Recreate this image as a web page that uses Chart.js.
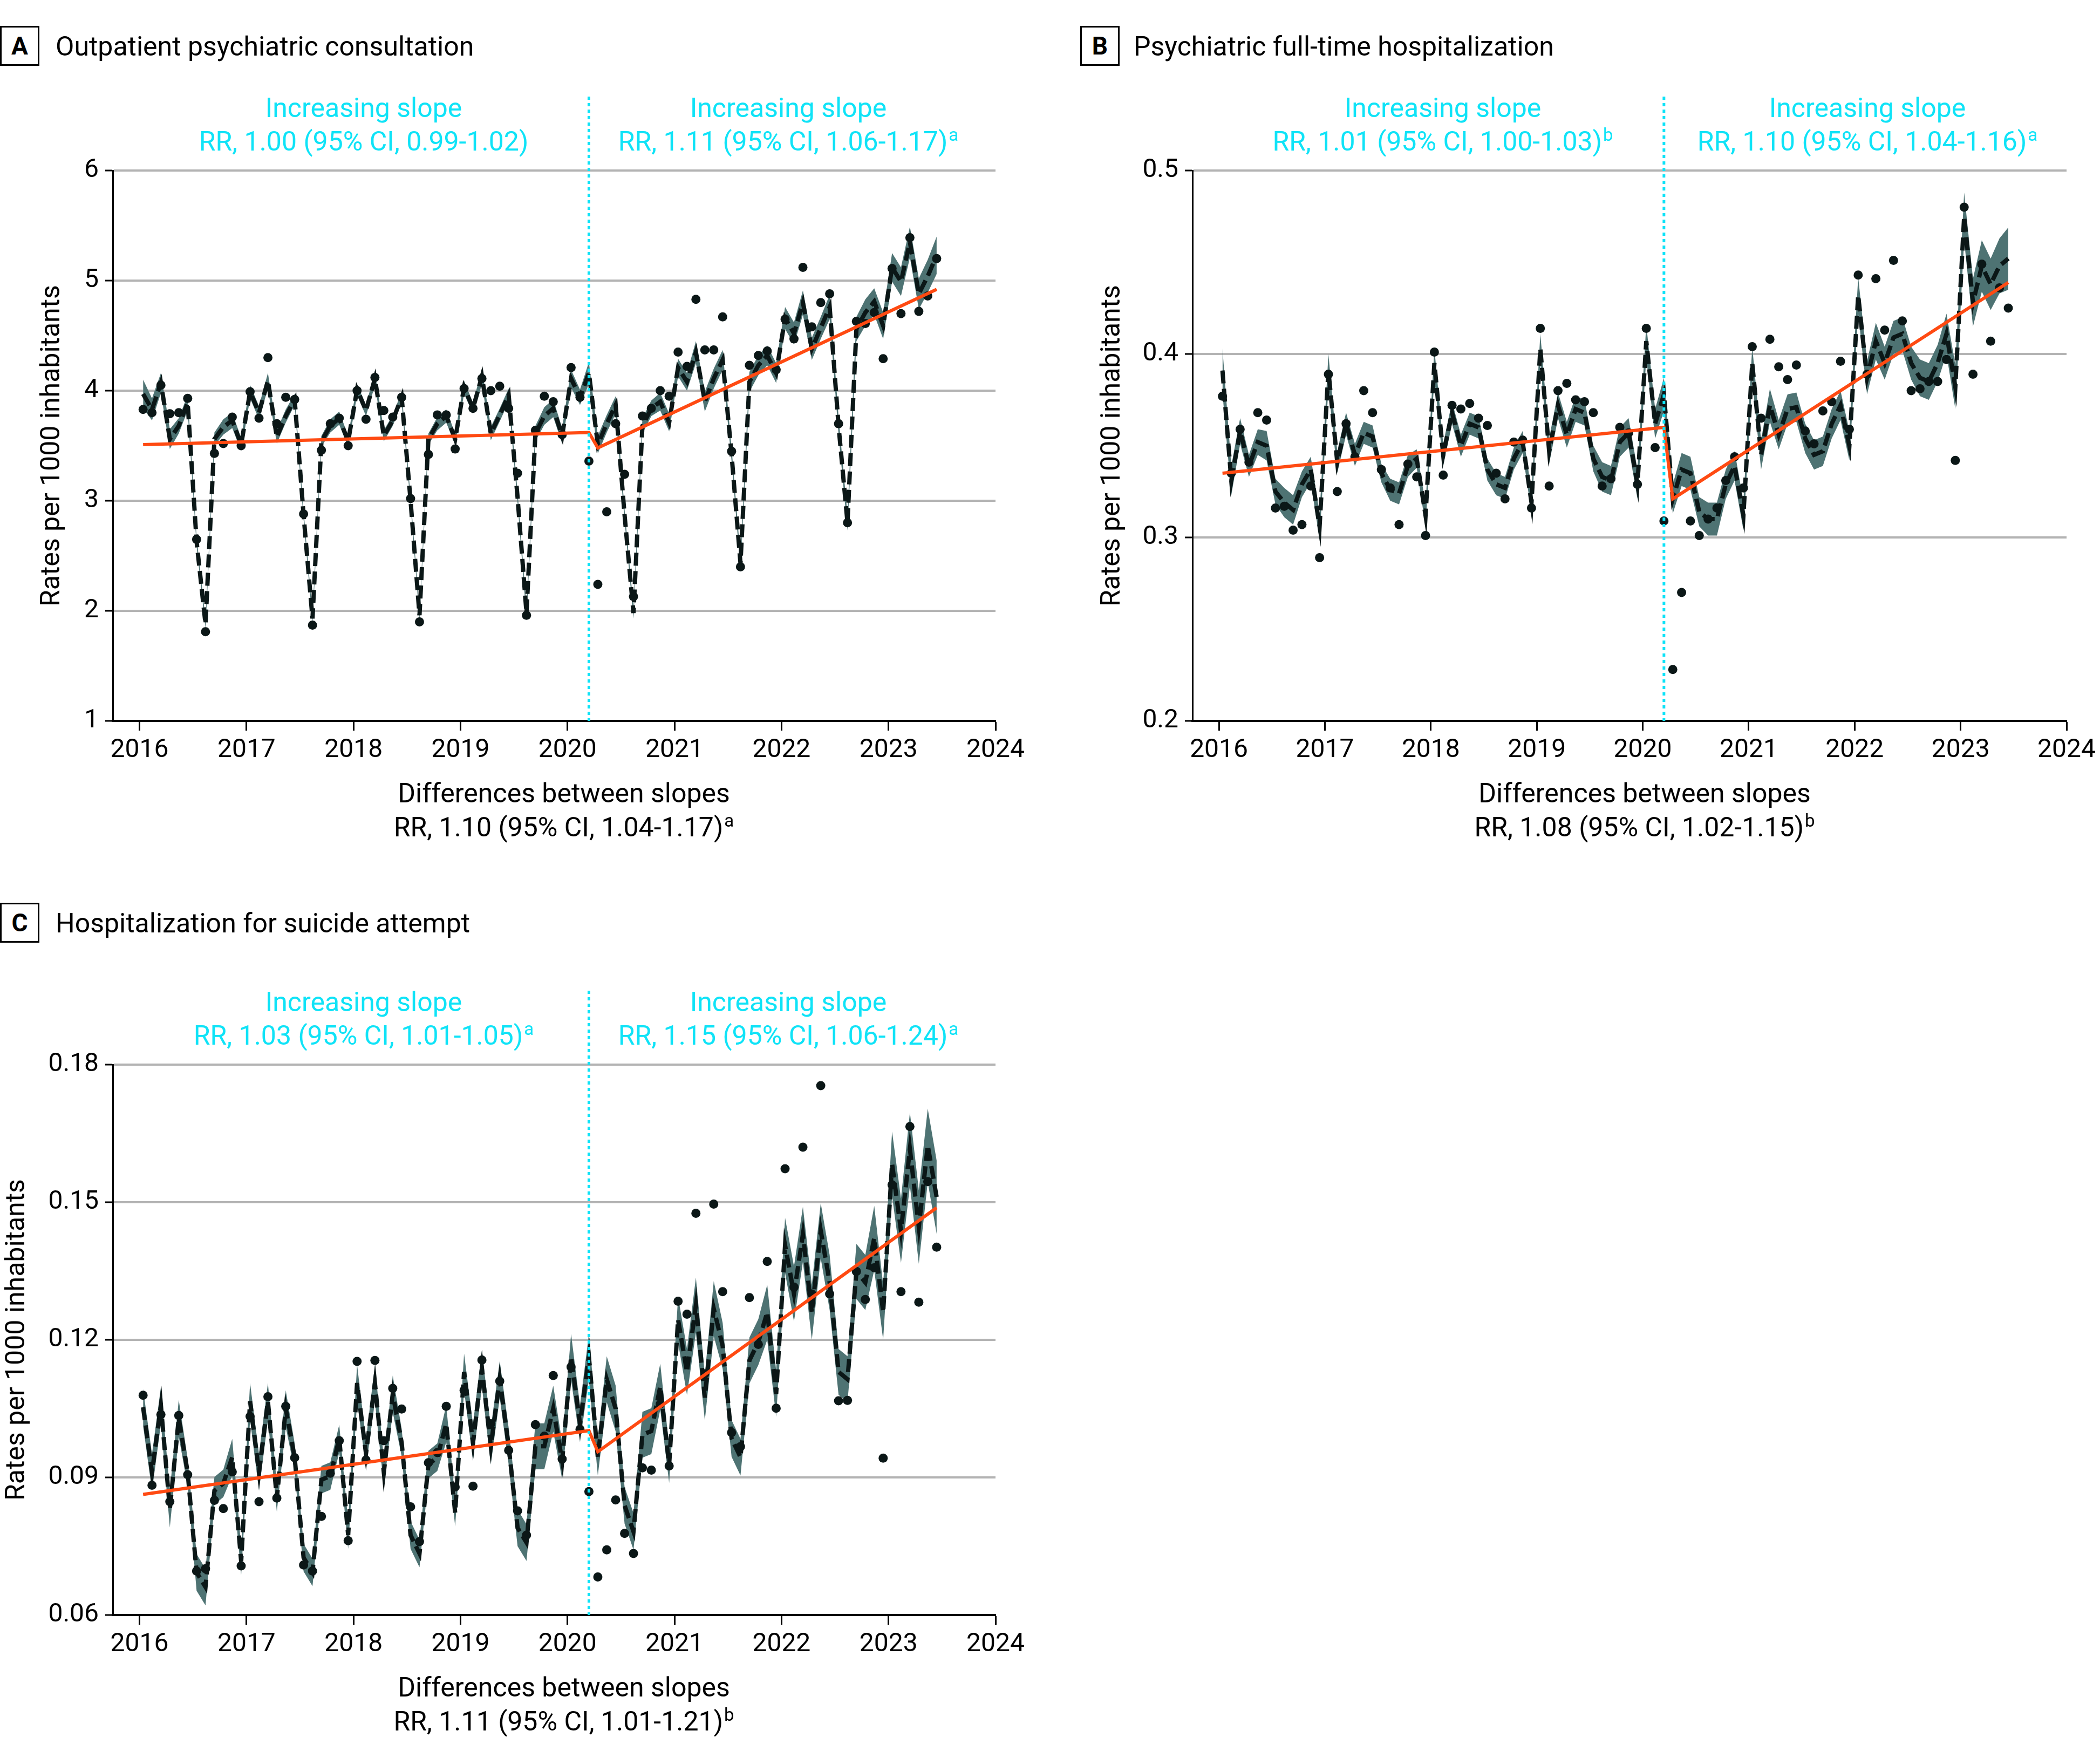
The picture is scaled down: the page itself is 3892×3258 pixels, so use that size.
<!DOCTYPE html>
<html>
<head>
<meta charset="utf-8">
<script src="https://cdn.jsdelivr.net/npm/chart.js@4.4.0/dist/chart.umd.min.js"></script>
<style>
  body { margin: 0; background: #fff; }
  #page { position: relative; width: 3892px; height: 3258px; overflow: hidden; background: #fff; font-family: Roboto, sans-serif; }
  canvas { position: absolute; }
  .t { position: absolute; font-size: 50px; line-height: 50px; white-space: nowrap; color: #000; }
  .c { transform: translateX(-50%); }
  .cyan { color: #0fe3f7; }
  .box { position: absolute; width: 73px; height: 74px; border: 3px solid #000; box-sizing: border-box;
         font-weight: bold; font-size: 46px; line-height: 68px; text-align: center; }
  .ytitle { position: absolute; font-size: 50px; line-height: 50px; white-space: nowrap;
            transform: translate(-50%, -50%) rotate(-90deg); }
  sup { font-size: 33px; line-height: 0; position: relative; top: -18px; vertical-align: baseline; margin-left: 2px; }
</style>
</head>
<body>
<div id="page">
  <canvas id="chartA" width="1940" height="1300" style="left:0;top:150px"></canvas>
  <canvas id="chartB" width="1892" height="1300" style="left:2000px;top:150px"></canvas>
  <canvas id="chartC" width="1940" height="1300" style="left:0;top:1807px"></canvas>

  <!-- Panel A -->
  <div class="box" style="left:0;top:48px">A</div>
  <div class="t" style="left:103px;top:61px">Outpatient psychiatric consultation</div>
  <div class="t c cyan" style="left:674px;top:175px">Increasing slope</div>
  <div class="t c cyan" style="left:674px;top:237px">RR, 1.00 (95% CI, 0.99-1.02)</div>
  <div class="t c cyan" style="left:1461px;top:175px">Increasing slope</div>
  <div class="t c cyan" style="left:1461px;top:237px">RR, 1.11 (95% CI, 1.06-1.17)<sup>a</sup></div>
  <div class="ytitle" style="left:93px;top:826px">Rates per 1000 inhabitants</div>
  <div class="t c" style="left:1045px;top:1445px">Differences between slopes</div>
  <div class="t c" style="left:1045px;top:1508px">RR, 1.10 (95% CI, 1.04-1.17)<sup>a</sup></div>

  <!-- Panel B -->
  <div class="box" style="left:2002px;top:48px">B</div>
  <div class="t" style="left:2101px;top:61px">Psychiatric full-time hospitalization</div>
  <div class="t c cyan" style="left:2674px;top:175px">Increasing slope</div>
  <div class="t c cyan" style="left:2674px;top:237px">RR, 1.01 (95% CI, 1.00-1.03)<sup>b</sup></div>
  <div class="t c cyan" style="left:3461px;top:175px">Increasing slope</div>
  <div class="t c cyan" style="left:3461px;top:237px">RR, 1.10 (95% CI, 1.04-1.16)<sup>a</sup></div>
  <div class="ytitle" style="left:2058px;top:826px">Rates per 1000 inhabitants</div>
  <div class="t c" style="left:3048px;top:1445px">Differences between slopes</div>
  <div class="t c" style="left:3048px;top:1508px">RR, 1.08 (95% CI, 1.02-1.15)<sup>b</sup></div>

  <!-- Panel C -->
  <div class="box" style="left:0;top:1673px">C</div>
  <div class="t" style="left:103px;top:1686px">Hospitalization for suicide attempt</div>
  <div class="t c cyan" style="left:674px;top:1832px">Increasing slope</div>
  <div class="t c cyan" style="left:674px;top:1894px">RR, 1.03 (95% CI, 1.01-1.05)<sup>a</sup></div>
  <div class="t c cyan" style="left:1461px;top:1832px">Increasing slope</div>
  <div class="t c cyan" style="left:1461px;top:1894px">RR, 1.15 (95% CI, 1.06-1.24)<sup>a</sup></div>
  <div class="ytitle" style="left:28px;top:2483px">Rates per 1000 inhabitants</div>
  <div class="t c" style="left:1045px;top:3102px">Differences between slopes</div>
  <div class="t c" style="left:1045px;top:3165px">RR, 1.11 (95% CI, 1.01-1.21)<sup>b</sup></div>
</div>

<script>
// Monthly series, Jan 2016 .. Jun 2023 (90 months)
const startYear = 2016;
const yearTicks = [2016, 2017, 2018, 2019, 2020, 2021, 2022, 2023, 2024];
const breakMonth = 50; // March 2020
const trendMonths = [0, 50, 51, 89];

// A - outpatient psychiatric consultation
const obsA = [
  3.83, 3.80, 4.05, 3.79, 3.80, 3.93, 2.65, 1.81, 3.43, 3.52, 3.76, 3.50,
  3.99, 3.75, 4.30, 3.70, 3.94, 3.92, 2.88, 1.87, 3.46, 3.70, 3.75, 3.50,
  4.00, 3.74, 4.12, 3.82, 3.76, 3.94, 3.02, 1.90, 3.42, 3.78, 3.78, 3.47,
  4.02, 3.84, 4.11, 4.00, 4.04, 3.84, 3.25, 1.96, 3.64, 3.95, 3.90, 3.60,
  4.21, 3.94, 3.36, 2.24, 2.90, 3.70, 3.24, 2.13, 3.77, 3.84, 4.00, 3.95,
  4.35, 4.22, 4.83, 4.37, 4.37, 4.67, 3.45, 2.40, 4.23, 4.32, 4.36, 4.19,
  4.65, 4.47, 5.12, 4.58, 4.80, 4.88, 3.70, 2.80, 4.63, 4.61, 4.71, 4.29,
  5.11, 4.70, 5.39, 4.72, 4.86, 5.20
];
const fitA = [
  3.97, 3.83, 4.07, 3.56, 3.68, 3.89, 2.63, 1.88, 3.56, 3.67, 3.73, 3.51,
  3.99, 3.80, 4.09, 3.58, 3.77, 3.92, 2.87, 1.93, 3.54, 3.68, 3.75, 3.54,
  4.01, 3.82, 4.11, 3.59, 3.73, 3.94, 3.00, 1.96, 3.56, 3.70, 3.77, 3.56,
  4.03, 3.84, 4.13, 3.61, 3.78, 3.96, 3.03, 1.98, 3.61, 3.77, 3.84, 3.59,
  4.11, 3.94, 4.16, 3.51, 3.70, 3.87, 2.87, 1.98, 3.68, 3.84, 3.90, 3.71,
  4.21, 4.08, 4.35, 3.90, 4.11, 4.28, 3.42, 2.43, 4.08, 4.23, 4.32, 4.16,
  4.66, 4.52, 4.80, 4.38, 4.57, 4.76, 3.68, 2.80, 4.56, 4.71, 4.81, 4.59,
  5.12, 4.99, 5.35, 4.88, 5.04, 5.23
];
const ciA = [
  0.13, 0.10, 0.09, 0.09, 0.07, 0.07, 0.04, 0.04, 0.06, 0.07, 0.07, 0.06,
  0.06, 0.06, 0.07, 0.06, 0.06, 0.05, 0.04, 0.04, 0.05, 0.06, 0.06, 0.05,
  0.05, 0.05, 0.06, 0.05, 0.05, 0.05, 0.04, 0.04, 0.05, 0.06, 0.06, 0.05,
  0.06, 0.05, 0.07, 0.06, 0.06, 0.06, 0.05, 0.05, 0.07, 0.08, 0.08, 0.07,
  0.08, 0.07, 0.10, 0.08, 0.08, 0.08, 0.05, 0.05, 0.07, 0.07, 0.08, 0.08,
  0.08, 0.08, 0.10, 0.09, 0.09, 0.09, 0.06, 0.06, 0.09, 0.09, 0.09, 0.09,
  0.10, 0.10, 0.11, 0.10, 0.10, 0.11, 0.08, 0.07, 0.11, 0.12, 0.12, 0.12,
  0.13, 0.13, 0.14, 0.14, 0.15, 0.17
];
const trendA = [3.51, 3.62, 3.48, 4.92];
const yTicksA = [1, 2, 3, 4, 5, 6];

// B - psychiatric full-time hospitalization
const obsB = [
  0.377, 0.335, 0.359, 0.341, 0.368, 0.364, 0.316, 0.317, 0.304, 0.307, 0.328, 0.289,
  0.389, 0.325, 0.362, 0.344, 0.380, 0.368, 0.337, 0.327, 0.307, 0.340, 0.333, 0.301,
  0.401, 0.334, 0.372, 0.370, 0.373, 0.365, 0.361, 0.335, 0.321, 0.352, 0.353, 0.316,
  0.414, 0.328, 0.380, 0.384, 0.375, 0.374, 0.368, 0.328, 0.332, 0.360, 0.357, 0.329,
  0.414, 0.349, 0.309, 0.228, 0.270, 0.309, 0.301, 0.310, 0.316, 0.331, 0.344, 0.327,
  0.404, 0.365, 0.408, 0.393, 0.386, 0.394, 0.358, 0.351, 0.369, 0.374, 0.396, 0.359,
  0.443, 0.389, 0.441, 0.413, 0.451, 0.418, 0.380, 0.381, 0.385, 0.385, 0.397, 0.342,
  0.480, 0.389, 0.449, 0.407, 0.436, 0.425
];
const fitB = [
  0.391, 0.331, 0.358, 0.339, 0.352, 0.350, 0.325, 0.319, 0.315, 0.329, 0.337, 0.306,
  0.391, 0.341, 0.362, 0.345, 0.357, 0.355, 0.335, 0.326, 0.324, 0.339, 0.343, 0.312,
  0.395, 0.345, 0.368, 0.350, 0.362, 0.360, 0.337, 0.329, 0.327, 0.343, 0.352, 0.319,
  0.403, 0.347, 0.372, 0.356, 0.370, 0.368, 0.343, 0.333, 0.331, 0.352, 0.357, 0.329,
  0.407, 0.362, 0.378, 0.321, 0.337, 0.335, 0.314, 0.310, 0.310, 0.329, 0.339, 0.312,
  0.395, 0.345, 0.372, 0.356, 0.370, 0.371, 0.354, 0.345, 0.347, 0.362, 0.372, 0.350,
  0.432, 0.387, 0.407, 0.395, 0.409, 0.411, 0.395, 0.387, 0.385, 0.395, 0.411, 0.382,
  0.475, 0.428, 0.448, 0.438, 0.448, 0.452
];
const ciB = [
  0.012, 0.008, 0.007, 0.006, 0.007, 0.008, 0.007, 0.008, 0.008, 0.007, 0.007, 0.007,
  0.009, 0.006, 0.006, 0.006, 0.006, 0.006, 0.005, 0.006, 0.006, 0.006, 0.005, 0.006,
  0.008, 0.006, 0.006, 0.006, 0.006, 0.006, 0.006, 0.006, 0.006, 0.006, 0.006, 0.006,
  0.008, 0.007, 0.007, 0.007, 0.007, 0.007, 0.007, 0.008, 0.008, 0.008, 0.008, 0.008,
  0.009, 0.008, 0.009, 0.008, 0.009, 0.009, 0.008, 0.009, 0.009, 0.008, 0.008, 0.008,
  0.009, 0.008, 0.009, 0.008, 0.008, 0.008, 0.008, 0.008, 0.008, 0.008, 0.008, 0.008,
  0.010, 0.009, 0.010, 0.009, 0.009, 0.009, 0.009, 0.010, 0.010, 0.010, 0.011, 0.012,
  0.013, 0.013, 0.014, 0.014, 0.015, 0.017
];
const trendB = [0.335, 0.360, 0.321, 0.439];
const yTicksB = [0.2, 0.3, 0.4, 0.5];

// C - hospitalization for suicide attempt
const obsC = [
  0.1079, 0.0883, 0.1037, 0.0847, 0.1035, 0.0906, 0.0696, 0.0701, 0.0850, 0.0832, 0.0912, 0.0707,
  0.1033, 0.0847, 0.1076, 0.0855, 0.1055, 0.0943, 0.0709, 0.0696, 0.0815, 0.0909, 0.0980, 0.0762,
  0.1153, 0.0938, 0.1155, 0.0980, 0.1094, 0.1049, 0.0836, 0.0760, 0.0932, 0.0954, 0.1055, 0.0879,
  0.1090, 0.0881, 0.1156, 0.1017, 0.1110, 0.0959, 0.0827, 0.0774, 0.1015, 0.0990, 0.1122, 0.0940,
  0.1141, 0.1005, 0.0869, 0.0683, 0.0742, 0.0851, 0.0778, 0.0734, 0.0921, 0.0916, 0.1060, 0.0925,
  0.1284, 0.1256, 0.1476, 0.1126, 0.1496, 0.1305, 0.0998, 0.0967, 0.1292, 0.1190, 0.1371, 0.1051,
  0.1573, 0.1315, 0.1620, 0.1300, 0.1754, 0.1300, 0.1067, 0.1068, 0.1349, 0.1288, 0.1357, 0.0942,
  0.1538, 0.1305, 0.1665, 0.1282, 0.1545, 0.1402
];
const fitC = [
  0.1053, 0.0911, 0.1057, 0.0831, 0.1029, 0.0911, 0.0693, 0.0661, 0.0871, 0.0887, 0.0944, 0.0717,
  0.1066, 0.0911, 0.1066, 0.0855, 0.1050, 0.0944, 0.0725, 0.0693, 0.0895, 0.0903, 0.0985, 0.0774,
  0.1106, 0.0952, 0.1106, 0.0911, 0.1082, 0.0976, 0.0774, 0.0734, 0.0928, 0.0944, 0.1017, 0.0823,
  0.1130, 0.0976, 0.1138, 0.0968, 0.1114, 0.0968, 0.0790, 0.0758, 0.0968, 0.0968, 0.1050, 0.0936,
  0.1163, 0.1017, 0.1163, 0.0944, 0.1114, 0.1050, 0.0839, 0.0782, 0.0993, 0.1001, 0.1098, 0.0928,
  0.1244, 0.1130, 0.1276, 0.1074, 0.1268, 0.1187, 0.0985, 0.0944, 0.1155, 0.1195, 0.1260, 0.1082,
  0.1406, 0.1300, 0.1430, 0.1260, 0.1438, 0.1325, 0.1130, 0.1114, 0.1349, 0.1325, 0.1422, 0.1260,
  0.1584, 0.1438, 0.1616, 0.1446, 0.1624, 0.1511
];
const ciC = [
  0.004, 0.004, 0.004, 0.004, 0.004, 0.003, 0.004, 0.004, 0.003, 0.003, 0.004, 0.003,
  0.004, 0.004, 0.004, 0.003, 0.004, 0.003, 0.003, 0.003, 0.003, 0.003, 0.003, 0.003,
  0.004, 0.003, 0.004, 0.003, 0.004, 0.003, 0.003, 0.003, 0.003, 0.003, 0.004, 0.003,
  0.004, 0.004, 0.004, 0.004, 0.004, 0.004, 0.004, 0.004, 0.005, 0.005, 0.005, 0.004,
  0.005, 0.004, 0.005, 0.004, 0.005, 0.005, 0.004, 0.004, 0.005, 0.005, 0.005, 0.004,
  0.005, 0.005, 0.006, 0.005, 0.006, 0.005, 0.004, 0.004, 0.005, 0.005, 0.006, 0.005,
  0.006, 0.006, 0.006, 0.006, 0.006, 0.006, 0.005, 0.005, 0.006, 0.006, 0.007, 0.006,
  0.007, 0.007, 0.008, 0.008, 0.008, 0.008
];
const trendC = [0.0863, 0.1002, 0.0956, 0.1488];
const yTicksC = [0.06, 0.09, 0.12, 0.15, 0.18];

// month index -> decimal year (points sit mid-month)
function monthX(i) {
  return startYear + (i + 0.4) / 12;
}

const bandColor = '#4e7373';
const inkColor = '#0b1717';
const trendColor = '#ff4a12';
const cyanColor = '#0fe3f7';
const tickFont = { family: 'Roboto', size: 48 };

// cyan dotted line at the March 2020 break, drawn above the plot too
const breakLine = {
  id: 'breakLine',
  afterDatasetsDraw(chart) {
    const ctx = chart.ctx;
    const x = chart.scales.x.getPixelForValue(monthX(breakMonth));
    ctx.save();
    ctx.strokeStyle = cyanColor;
    ctx.lineWidth = 5;
    ctx.setLineDash([6, 6]);
    ctx.beginPath();
    ctx.moveTo(x, chart.chartArea.top - 137);
    ctx.lineTo(x, chart.chartArea.bottom);
    ctx.stroke();
    ctx.restore();
  }
};

function makePanel(id, obs, fit, ci, trend, yTicks, decimals, yWidth, rightPad) {
  const lower = fit.map((v, i) => ({ x: monthX(i), y: v - ci[i] }));
  const upper = fit.map((v, i) => ({ x: monthX(i), y: v + ci[i] }));
  const fitted = fit.map((v, i) => ({ x: monthX(i), y: v }));
  const points = obs.map((v, i) => ({ x: monthX(i), y: v }));
  const trendPts = trendMonths.map((m, k) => ({ x: monthX(m), y: trend[k] }));
  const yMin = yTicks[0];
  const yMax = yTicks[yTicks.length - 1];

  return new Chart(document.getElementById(id), {
    type: 'line',
    data: {
      datasets: [
        { data: lower, borderColor: 'rgba(0,0,0,0)', borderWidth: 0, pointRadius: 0, fill: false, order: 4 },
        { data: upper, borderColor: 'rgba(0,0,0,0)', borderWidth: 0, pointRadius: 0,
          fill: '-1', backgroundColor: bandColor, order: 3 },
        { data: fitted, borderColor: inkColor, borderWidth: 8, borderDash: [24, 10],
          pointRadius: 0, fill: false, order: 2 },
        { data: points, showLine: false, pointRadius: 8.5, pointBackgroundColor: inkColor,
          pointBorderWidth: 0, order: 1 },
        { data: trendPts, borderColor: trendColor, borderWidth: 6, pointRadius: 0, fill: false, order: 0 }
      ]
    },
    options: {
      responsive: false,
      animation: false,
      devicePixelRatio: 1,
      layout: { padding: { left: 0, top: 166, right: rightPad, bottom: 0 } },
      plugins: { legend: { display: false }, tooltip: { enabled: false } },
      elements: { line: { tension: 0 } },
      scales: {
        x: {
          type: 'linear',
          min: 2015.75,
          max: 2024,
          afterBuildTicks: s => { s.ticks = yearTicks.map(v => ({ value: v })); },
          afterFit: s => { s.height = 114; },
          ticks: { font: tickFont, color: '#000', padding: 8, maxRotation: 0, callback: v => String(v) },
          grid: { drawOnChartArea: false, drawTicks: true, tickLength: 18, tickWidth: 3, tickColor: '#000' },
          border: { color: '#000', width: 4 }
        },
        y: {
          min: yMin,
          max: yMax,
          afterBuildTicks: s => { s.ticks = yTicks.map(v => ({ value: v })); },
          afterFit: s => { s.width = yWidth; },
          ticks: { font: tickFont, color: '#000', padding: 12, callback: v => v.toFixed(decimals) },
          grid: {
            color: c => (c.tick && c.tick.value === yMin) ? 'rgba(0,0,0,0)' : '#b3b3b3',
            lineWidth: 4, tickLength: 14, tickWidth: 3, tickColor: '#000'
          },
          border: { color: '#000', width: 3 }
        }
      }
    },
    plugins: [breakLine]
  });
}

makePanel('chartA', obsA, fitA, ciA, trendA, yTicksA, 0, 209, 95);
makePanel('chartB', obsB, fitB, ciB, trendB, yTicksB, 1, 210, 55);
makePanel('chartC', obsC, fitC, ciC, trendC, yTicksC, 2, 209, 95);
</script>
</body>
</html>
